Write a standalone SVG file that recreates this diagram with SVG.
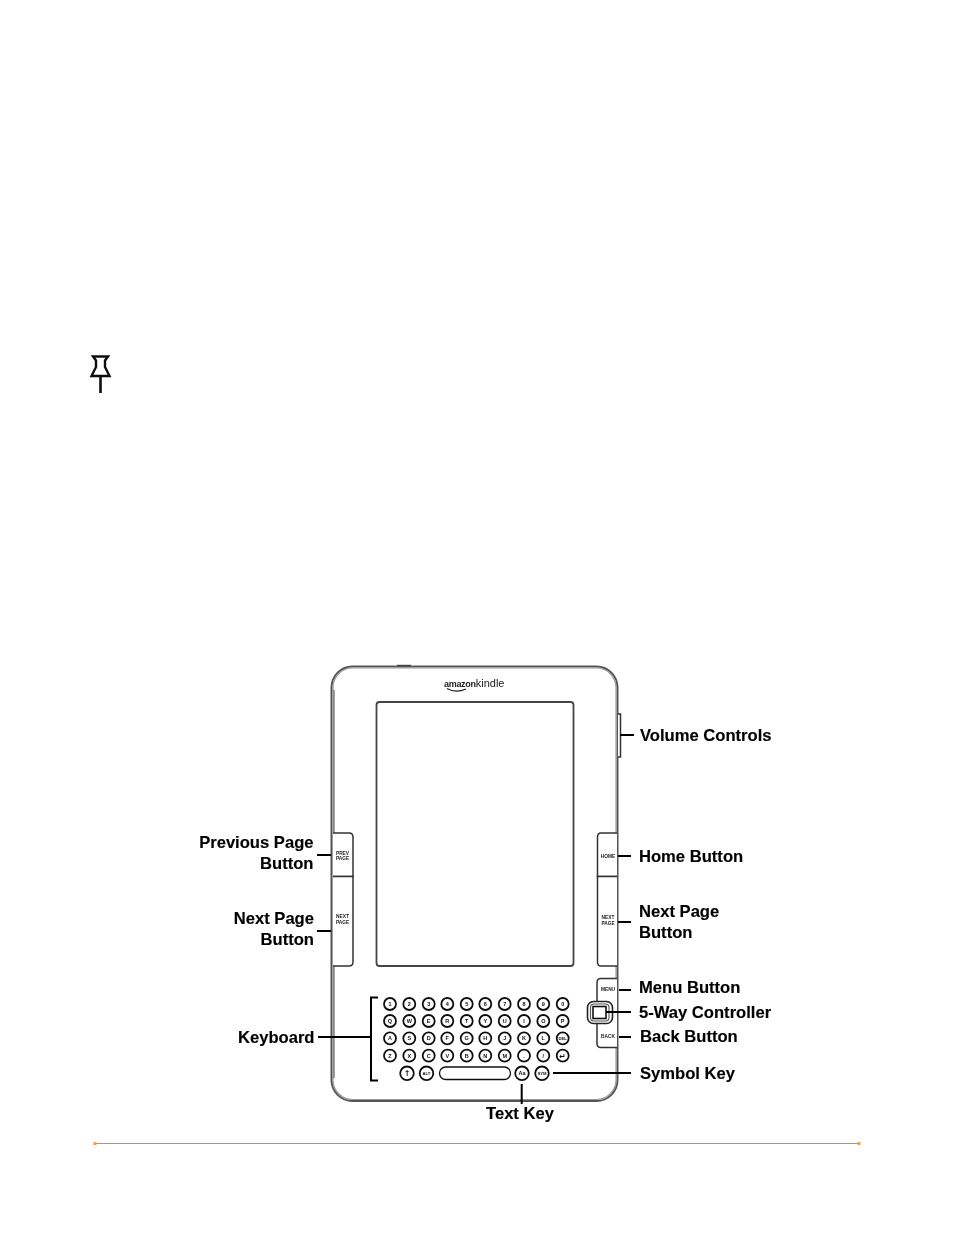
<svg xmlns="http://www.w3.org/2000/svg" width="954" height="1235" viewBox="0 0 954 1235">
<defs><filter id="soft" x="-5%" y="-5%" width="110%" height="110%"><feGaussianBlur stdDeviation="0.38"/></filter></defs>
<style>
text{font-family:"Liberation Sans",Arial,sans-serif}
.l{font-size:16.6px;font-weight:700;fill:#000;stroke:#000;stroke-width:.15}
.e{text-anchor:end}
.k{fill:#fff;stroke:#111;stroke-width:1.8}
.kt{font-size:5.500px;font-weight:700;fill:#111;text-anchor:middle}
.ks{font-size:4.200px}
.ka{font-family:"DejaVu Sans",sans-serif;font-size:8px}
.bt{font-size:4.800px;font-weight:700;fill:#222;text-anchor:middle}
.b{fill:#fff;stroke:#333;stroke-width:1.500}
.c{fill:none;stroke:#000;stroke-width:2}
</style>
<rect width="954" height="1235" fill="#fff"/>
<g filter="url(#soft)">
<g id="pin" fill="none" stroke="#111">
<path d="M93 356.500H108L105 360.500V367L109.500 376H91.500L96 367V360.500Z" stroke-width="2.400"/>
<path d="M100.500 376V393" stroke-width="2.600"/>
</g>
<g id="device">
<path d="M397 667H411V664.800H397Z" fill="#333"/>
<rect x="331.500" y="666.500" width="286" height="434.500" rx="21" fill="#fff" stroke="#555" stroke-width="2"/>
<rect x="333" y="668" width="283" height="431.500" rx="19.500" fill="none" stroke="#999" stroke-width="1.200"/>
<path d="M334 690V1078" fill="none" stroke="#777" stroke-width="1.400"/>
<rect x="376.500" y="702" width="197" height="264" rx="3" fill="#fff" stroke="#444" stroke-width="1.800"/>
<text x="444" y="687" fill="#222"><tspan font-size="9" font-weight="700" letter-spacing="-.3">amazon</tspan><tspan font-size="11">kindle</tspan></text>
<path d="M447 688.500Q456 693.500 466 689" fill="none" stroke="#222" stroke-width="1.200"/>
</g>
<g id="volume-controls"><path d="M618 714H620.500V757H618" class="b"/></g>
<g id="prev-page-button"><path d="M333 833H349Q353 833 353 837V876.500H333" class="b"/><text class="bt" x="342.500" y="854.500">PREV</text><text class="bt" x="342.500" y="860">PAGE</text></g>
<g id="next-page-left"><path d="M333 876.500H353V962Q353 966 349 966H333" class="b"/><text class="bt" x="342.500" y="918">NEXT</text><text class="bt" x="342.500" y="924">PAGE</text></g>
<g id="home-button"><path d="M617 833H601Q597.500 833 597.500 837V876.500H617" class="b"/><text class="bt" x="608" y="857.500">HOME</text></g>
<g id="next-page-right"><path d="M617 876.500H597.500V962Q597.500 966 601 966H617" class="b"/><text class="bt" x="608" y="919">NEXT</text><text class="bt" x="608" y="925">PAGE</text></g>
<g id="menu-back">
<path d="M617 978.500H601Q597 978.500 597 982.500V1043.500Q597 1047.500 601 1047.500H617" class="b"/>
<text class="bt" x="608" y="991">MENU</text><text class="bt" x="608" y="1037.500">BACK</text>
</g>
<g id="five-way">
<rect x="587.500" y="1001.500" width="25" height="22" rx="6" fill="#fff" stroke="#222" stroke-width="1.600"/>
<rect x="590.500" y="1004" width="18.500" height="17" rx="3.500" fill="#fff" stroke="#555" stroke-width="1.100"/>
<rect x="593" y="1006.500" width="13" height="12" fill="#fff" stroke="#111" stroke-width="1.600"/>
</g>
<g id="keys">
<g><circle class="k" cx="390" cy="1004" r="6"/><text class="kt" x="390" y="1006">1</text><circle class="k" cx="409.300" cy="1004" r="6"/><text class="kt" x="409.300" y="1006">2</text><circle class="k" cx="428.700" cy="1004" r="6"/><text class="kt" x="428.700" y="1006">3</text><circle class="k" cx="447.300" cy="1004" r="6"/><text class="kt" x="447.300" y="1006">4</text><circle class="k" cx="466.700" cy="1004" r="6"/><text class="kt" x="466.700" y="1006">5</text><circle class="k" cx="485.300" cy="1004" r="6"/><text class="kt" x="485.300" y="1006">6</text><circle class="k" cx="504.700" cy="1004" r="6"/><text class="kt" x="504.700" y="1006">7</text><circle class="k" cx="524" cy="1004" r="6"/><text class="kt" x="524" y="1006">8</text><circle class="k" cx="543.300" cy="1004" r="6"/><text class="kt" x="543.300" y="1006">9</text><circle class="k" cx="562.700" cy="1004" r="6"/><text class="kt" x="562.700" y="1006">0</text></g>
<g><circle class="k" cx="390" cy="1021" r="6"/><text class="kt" x="390" y="1023">Q</text><circle class="k" cx="409.300" cy="1021" r="6"/><text class="kt" x="409.300" y="1023">W</text><circle class="k" cx="428.700" cy="1021" r="6"/><text class="kt" x="428.700" y="1023">E</text><circle class="k" cx="447.300" cy="1021" r="6"/><text class="kt" x="447.300" y="1023">R</text><circle class="k" cx="466.700" cy="1021" r="6"/><text class="kt" x="466.700" y="1023">T</text><circle class="k" cx="485.300" cy="1021" r="6"/><text class="kt" x="485.300" y="1023">Y</text><circle class="k" cx="504.700" cy="1021" r="6"/><text class="kt" x="504.700" y="1023">U</text><circle class="k" cx="524" cy="1021" r="6"/><text class="kt" x="524" y="1023">I</text><circle class="k" cx="543.300" cy="1021" r="6"/><text class="kt" x="543.300" y="1023">O</text><circle class="k" cx="562.700" cy="1021" r="6"/><text class="kt" x="562.700" y="1023">P</text></g>
<g><circle class="k" cx="390" cy="1038.300" r="6"/><text class="kt" x="390" y="1040.300">A</text><circle class="k" cx="409.300" cy="1038.300" r="6"/><text class="kt" x="409.300" y="1040.300">S</text><circle class="k" cx="428.700" cy="1038.300" r="6"/><text class="kt" x="428.700" y="1040.300">D</text><circle class="k" cx="447.300" cy="1038.300" r="6"/><text class="kt" x="447.300" y="1040.300">F</text><circle class="k" cx="466.700" cy="1038.300" r="6"/><text class="kt" x="466.700" y="1040.300">G</text><circle class="k" cx="485.300" cy="1038.300" r="6"/><text class="kt" x="485.300" y="1040.300">H</text><circle class="k" cx="504.700" cy="1038.300" r="6"/><text class="kt" x="504.700" y="1040.300">J</text><circle class="k" cx="524" cy="1038.300" r="6"/><text class="kt" x="524" y="1040.300">K</text><circle class="k" cx="543.300" cy="1038.300" r="6"/><text class="kt" x="543.300" y="1040.300">L</text><circle class="k" cx="562.700" cy="1038.300" r="6"/><text class="kt ks" x="562.700" y="1040">DEL</text></g>
<g><circle class="k" cx="390" cy="1055.700" r="6"/><text class="kt" x="390" y="1057.700">Z</text><circle class="k" cx="409.300" cy="1055.700" r="6"/><text class="kt" x="409.300" y="1057.700">X</text><circle class="k" cx="428.700" cy="1055.700" r="6"/><text class="kt" x="428.700" y="1057.700">C</text><circle class="k" cx="447.300" cy="1055.700" r="6"/><text class="kt" x="447.300" y="1057.700">V</text><circle class="k" cx="466.700" cy="1055.700" r="6"/><text class="kt" x="466.700" y="1057.700">B</text><circle class="k" cx="485.300" cy="1055.700" r="6"/><text class="kt" x="485.300" y="1057.700">N</text><circle class="k" cx="504.700" cy="1055.700" r="6"/><text class="kt" x="504.700" y="1057.700">M</text><circle class="k" cx="524" cy="1055.700" r="6"/><text class="kt" x="524" y="1057.700">.</text><circle class="k" cx="543.300" cy="1055.700" r="6"/><text class="kt" x="543.300" y="1057.700">/</text><circle class="k" cx="562.700" cy="1055.700" r="6"/><text class="kt ka" x="562.700" y="1058.500">↵</text></g>
<g><circle class="k" cx="407" cy="1073.300" r="6.800"/><text class="kt ka" x="407" y="1076.300">↑</text><circle class="k" cx="426.500" cy="1073.300" r="6.800"/><text class="kt ks" x="426.500" y="1075">ALT</text><rect class="k" x="439.500" y="1067" width="71" height="12.500" rx="6.200" style="stroke-width:1.300"/><circle class="k" cx="522" cy="1073.300" r="6.800"/><text class="kt" x="522" y="1075.300">Aa</text><circle class="k" cx="542" cy="1073.300" r="6.800"/><text class="kt ks" x="542" y="1075">SYM</text></g>
</g>
<g id="connectors">
<path class="c" d="M620 735H634"/>
<path class="c" d="M618 856H631"/>
<path class="c" d="M618 922H631"/>
<path class="c" d="M619 990H631"/>
<path class="c" d="M606 1012H631"/>
<path class="c" d="M619 1037H631"/>
<path class="c" d="M553 1073H631"/>
<path class="c" d="M521.700 1084V1104"/>
<path class="c" d="M318 1037H371"/>
<path class="c" d="M378 997.500H371V1080.500H378"/>
<path class="c" d="M317 855H331"/>
<path class="c" d="M317 931H331"/>
</g>
<g id="labels">
<text class="l" x="640" y="741">Volume Controls</text>
<text class="l" x="639" y="862">Home Button</text>
<text class="l" x="639" y="917">Next Page</text>
<text class="l" x="639" y="938">Button</text>
<text class="l" x="639" y="993">Menu Button</text>
<text class="l" x="639" y="1018">5-Way Controller</text>
<text class="l" x="640" y="1042">Back Button</text>
<text class="l" x="640" y="1079">Symbol Key</text>
<text class="l" x="486" y="1119">Text Key</text>
<text class="l e" x="313.500" y="848">Previous Page</text>
<text class="l e" x="313.500" y="869">Button</text>
<text class="l e" x="314" y="924">Next Page</text>
<text class="l e" x="314" y="945">Button</text>
<text class="l e" x="314.500" y="1043">Keyboard</text>
</g>
</g>
<g id="rule">
<path d="M94 1143H860" stroke="#e8861f" stroke-width="1" fill="none" transform="translate(0 .5)"/>
<rect x="93.500" y="1142" width="3" height="3" fill="#f0a050"/>
<rect x="857.500" y="1142" width="3" height="3" fill="#f0a050"/>
</g>
</svg>
